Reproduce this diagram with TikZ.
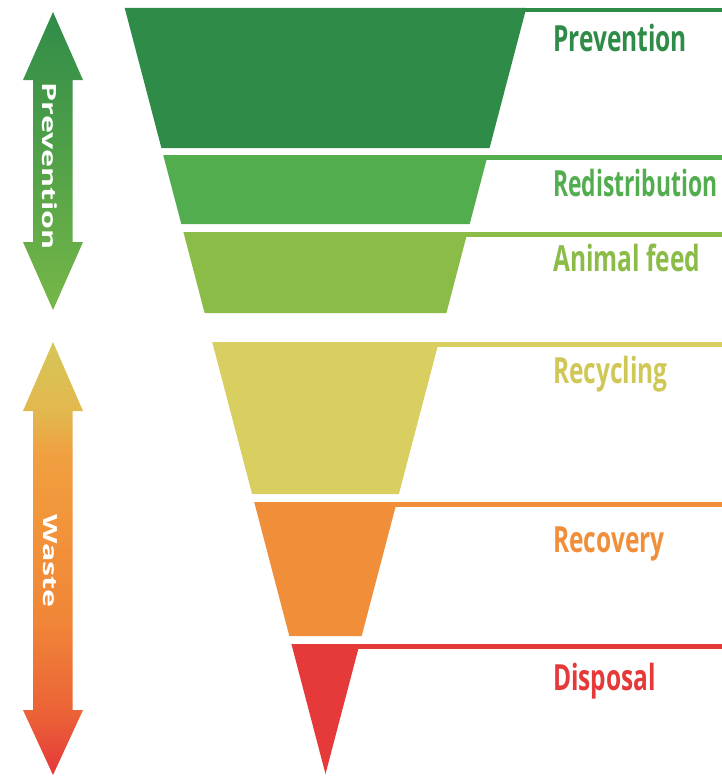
\documentclass[tikz,border=0pt]{standalone}
\usepackage{fontspec}
\newfontfamily\labfont{Open Sans}
\definecolor{cA}{RGB}{47,140,72}
\definecolor{cB}{RGB}{82,173,79}
\definecolor{cC}{RGB}{139,188,71}
\definecolor{cD}{RGB}{217,207,96}
\definecolor{cDt}{RGB}{208,200,86}
\definecolor{cE}{RGB}{240,142,58}
\definecolor{cF}{RGB}{229,57,58}
\definecolor{gA}{RGB}{118,183,72}
\definecolor{wA}{RGB}{214,198,88}
\definecolor{wA2}{RGB}{226,184,78}
\definecolor{wB}{RGB}{240,160,64}
\definecolor{wB2}{RGB}{242,148,58}
\definecolor{wB3}{RGB}{240,134,55}
\definecolor{wC2}{RGB}{235,98,55}
\definecolor{wC}{RGB}{229,55,58}
\pgfdeclareverticalshading{wasteshade}{100bp}{color(0bp)=(wC); color(25bp)=(wC); color(32bp)=(wC2); color(43bp)=(wB3); color(54bp)=(wB2); color(62bp)=(wB); color(67bp)=(wA2); color(75bp)=(wA); color(100bp)=(wA)}
\newcommand{\sqz}[1]{\scalebox{0.68}[1]{#1}}
\newcommand{\tall}[1]{\scalebox{1}[0.64]{#1}}
\tikzset{
  lab/.style={anchor=base west, inner sep=0pt, font=\labfont\bfseries\fontsize{36}{36}\selectfont},
  sidelab/.style={anchor=center, inner sep=0pt, rotate=-90, text=white, font=\labfont\bfseries\fontsize{30.5}{30.5}\selectfont}
}
\begin{document}
\begin{tikzpicture}[x=1pt,y=-1pt]
\useasboundingbox (0,0) rectangle (722,776);
\fill[white] (0,0) rectangle (722,776);
% tiers
\fill[cA] (124.7,8) -- (526.3,8) -- (489.6,148) -- (161.4,148) -- cycle;
\fill[cA] (480,8) rectangle (722,12.5);
\fill[cB] (163.2,155) -- (487.8,155) -- (469.7,224) -- (181.3,224) -- cycle;
\fill[cB] (480,155) rectangle (722,159.5);
\fill[cC] (183.4,232) -- (467.6,232) -- (446.4,313) -- (204.6,313) -- cycle;
\fill[cC] (460,232) rectangle (722,236.5);
\fill[cD] (212.2,342) -- (438.8,342) -- (398.9,494) -- (252.1,494) -- cycle;
\fill[cD] (430,342) rectangle (722,346.5);
\fill[cE] (254.2,502) -- (396.8,502) -- (361.7,636) -- (289.3,636) -- cycle;
\fill[cE] (390,502) rectangle (722,506.5);
\fill[cF] (291.4,644) -- (359.6,644) -- (325.5,774) -- cycle;
\fill[cF] (350,644) rectangle (722,648.5);
% labels
\node[lab, text=cA] (lprev) at (553,52) {\sqz{Prevention}};
\node[lab, text=cB] (lred) at (553,196) {\scalebox{0.635}[1]{Redistribution}};
\node[lab, text=cC] (lani) at (553,271) {\sqz{Animal feed}};
\node[lab, text=cDt] (lrec) at (553,383) {\sqz{Recycling}};
\node[lab, text=cE] (lrecov) at (553,552) {\sqz{Recovery}};
\node[lab, text=cF] (ldis) at (553,690) {\sqz{Disposal}};
% side arrows
\shade[top color=cA, bottom color=gA]
  (53,12) -- (83,80) -- (72.5,80) -- (72.5,242) -- (83,242) -- (53,310) -- (23,242) -- (33,242) -- (33,80) -- (23,80) -- cycle;
\shade[shading=wasteshade]
  (53,342) -- (83,411) -- (72.5,411) -- (72.5,710) -- (83,710) -- (53,775) -- (23,710) -- (33,710) -- (33,411) -- (23,411) -- cycle;
\node[sidelab] (sprev) at (50,166) {\tall{Prevention}};
\node[sidelab] (swaste) at (50,561) {\tall{Waste}};
\end{tikzpicture}
\end{document}
